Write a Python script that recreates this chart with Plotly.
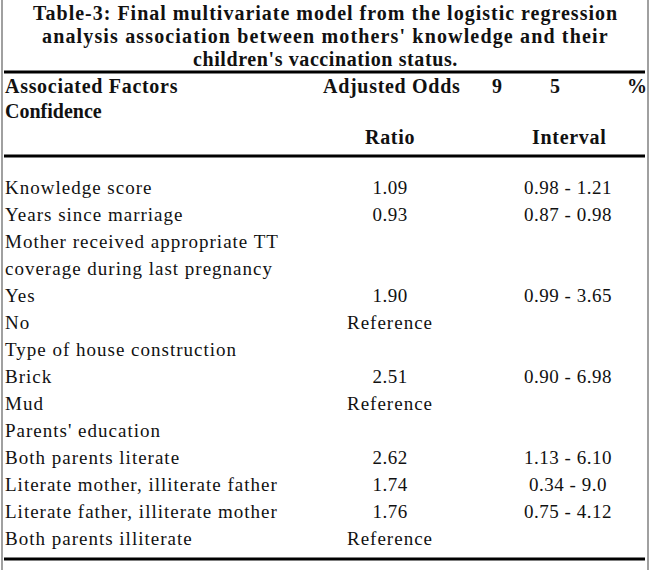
import plotly.graph_objects as go

# Table-3 content
title_lines = [
    "Table-3: Final multivariate model from the logistic regression",
    "analysis association between mothers' knowledge and their",
    "children's vaccination status.",
]
factors = [
    "Knowledge score",
    "Years since marriage",
    "Mother received appropriate TT",
    "coverage during last pregnancy",
    "Yes",
    "No",
    "Type of house construction",
    "Brick",
    "Mud",
    "Parents' education",
    "Both parents literate",
    "Literate mother, illiterate father",
    "Literate father, illiterate mother",
    "Both parents illiterate",
]
odds_ratio = ["1.09", "0.93", "", "", "1.90", "Reference", "", "2.51", "Reference",
              "", "2.62", "1.74", "1.76", "Reference"]
conf_interval = ["0.98 - 1.21", "0.87 - 0.98", "", "", "0.99 - 3.65", "", "",
                 "0.90 - 6.98", "", "", "1.13 - 6.10", "0.34 - 9.0", "0.75 - 4.12", ""]
header_top = ["Associated Factors", "Adjusted Odds", "9", "5", "%"]
header_mid = ["Confidence"]
header_low = ["Ratio", "Interval"]

W, H = 650, 570
FONT = "Liberation Serif, Times New Roman, serif"
INK = "#111111"


def spaced(s, px, bold=False):
    # the scanned table is typeset with loose tracking
    inner = "<b>%s</b>" % s if bold else s
    return '<span style="letter-spacing:%.2fpx">%s</span>' % (px, inner) if s else ""


def body_cell(s):
    # numbers are set a bit tighter than words in the scan
    return spaced(s, 0.5 if s[:1].isdigit() else 1.0)


# row layout (pixel coords, y grows downward)
row_y0, row_step = 189, 27
rows_y = [row_y0 + i * row_step for i in range(len(factors))]
x_left, x_ratio, x_ci = 5, 390, 568

fig = go.Figure()

# body columns
for xs, col, pos in [(x_left, factors, "middle right"),
                     (x_ratio, odds_ratio, "middle center"),
                     (x_ci, conf_interval, "middle center")]:
    fig.add_trace(go.Scatter(x=[xs] * len(col), y=rows_y, text=[body_cell(s) for s in col],
                             mode="text", textposition=pos, cliponaxis=False,
                             textfont=dict(family=FONT, size=19, color=INK), hoverinfo="skip"))

# header cells (bold)
head_text = header_top + header_mid + header_low
head_x = [3, 391, 497, 555, 637, 3, 390, 569]
head_y = [86, 86, 86, 86, 86, 111, 137, 137]
head_anchor = ["left", "center", "center", "center", "center", "left", "center", "center"]
for t, x, y, a in zip(head_text, head_x, head_y, head_anchor):
    fig.add_annotation(x=x, y=y, text=spaced(t, 0.7 if t != "Confidence" else 0.0, bold=True),
                       showarrow=False, xanchor=a, yanchor="middle",
                       font=dict(family=FONT, size=20, color=INK))

# title, one annotation per line; tracking differs a little per line in the scan
title_track = [1.0, 1.15, 0.6]
title_y = [13, 36, 59]
for t, k, y in zip(title_lines, title_track, title_y):
    fig.add_annotation(x=W / 2, y=y, text=spaced(t, k, bold=True), showarrow=False,
                       xanchor="center", yanchor="middle",
                       font=dict(family=FONT, size=20, color=INK))

# rules and frame
for y in [72, 156, 559]:
    fig.add_shape(type="line", x0=4, x1=645, y0=y, y1=y, line=dict(color="black", width=3))
for x in [2, 648]:
    fig.add_shape(type="line", x0=x, x1=x, y0=0, y1=H, line=dict(color="#808080", width=1.5))

fig.update_xaxes(visible=False, range=[0, W])
fig.update_yaxes(visible=False, range=[H, 0])
fig.update_layout(width=W, height=H, margin=dict(l=0, r=0, t=0, b=0),
                  paper_bgcolor="white", plot_bgcolor="white", showlegend=False)

# drop the default 8px body margin so the figure sits at the page origin
fig.write_html("out.html", config={"displayModeBar": False, "staticPlot": True},
               post_script="document.body.style.margin='0px';")
